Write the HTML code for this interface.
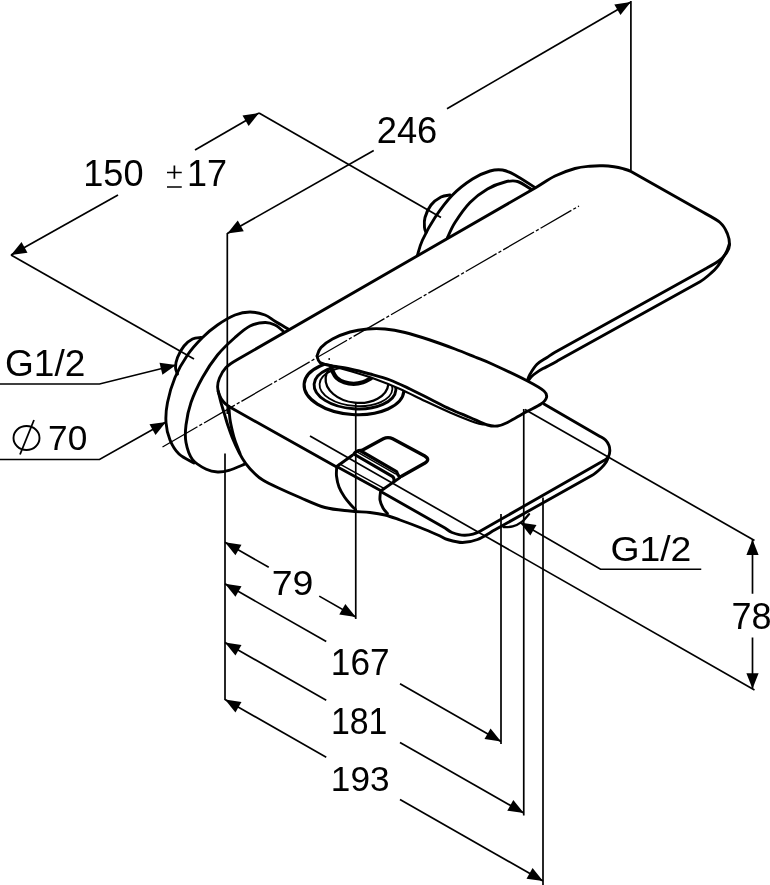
<!DOCTYPE html>
<html><head><meta charset="utf-8"><title>Dimension drawing</title>
<style>
html,body{margin:0;padding:0;background:#fff;}
body{width:770px;height:885px;overflow:hidden;font-family:"Liberation Sans",sans-serif;}
svg{display:block;}
text{font-family:"Liberation Sans",sans-serif;fill:#000;}
</style></head><body>
<svg width="770" height="885" viewBox="0 0 770 885">
<rect width="770" height="885" fill="#fff"/>
<g fill="none" stroke="#000" stroke-width="2.9" stroke-linecap="round" stroke-linejoin="round">
<ellipse cx="354" cy="387.5" rx="50" ry="27" transform="rotate(4 354 387.5)" stroke-width="3.1"/>
<ellipse cx="355" cy="387" rx="41" ry="21.8" transform="rotate(4 355 387)" stroke-width="2.9"/>
<ellipse cx="356" cy="386.5" rx="36.5" ry="19.5" transform="rotate(4 356 386.5)" stroke-width="1.8"/>
<ellipse cx="357" cy="381" rx="31.5" ry="21.8" transform="rotate(6 357 381)" stroke-width="2.3"/>
<path d="M331.80,369.90 C332.58,371.20 334.42,375.63 336.50,377.70 C338.58,379.77 341.43,381.27 344.30,382.30 C347.17,383.33 350.58,383.90 353.70,383.90 C356.82,383.90 360.15,383.22 363.00,382.30 C365.85,381.38 369.50,379.05 370.80,378.40" stroke-width="4.3"/>
<path d="M289.00,329.50 C286.67,328.12 279.00,323.67 275.00,321.25 C271.00,318.83 269.17,316.54 265.00,315.00 C260.83,313.46 255.00,312.00 250.00,312.00 C245.00,312.00 240.42,312.83 235.00,315.00 C229.58,317.17 222.92,321.25 217.50,325.00 C212.08,328.75 207.50,332.50 202.50,337.50 C197.50,342.50 192.08,348.33 187.50,355.00 C182.92,361.67 178.33,369.58 175.00,377.50 C171.67,385.42 169.00,395.00 167.50,402.50 C166.00,410.00 165.58,416.25 166.00,422.50 C166.42,428.75 167.83,434.75 170.00,440.00 C172.17,445.25 175.00,450.17 179.00,454.00 C183.00,457.83 191.50,461.50 194.00,463.00" fill="none"/>
<path d="M283.00,331.00 C281.67,330.00 278.00,326.42 275.00,325.00 C272.00,323.58 269.17,322.33 265.00,322.50 C260.83,322.67 255.00,323.50 250.00,326.00 C245.00,328.50 240.42,332.67 235.00,337.50 C229.58,342.33 222.92,348.33 217.50,355.00 C212.08,361.67 206.92,369.58 202.50,377.50 C198.08,385.42 193.75,394.58 191.00,402.50 C188.25,410.42 186.83,418.33 186.00,425.00 C185.17,431.67 184.92,436.75 186.00,442.50 C187.08,448.25 189.12,455.03 192.50,459.50 C195.88,463.97 202.12,467.22 206.30,469.30 C210.48,471.38 213.83,471.82 217.60,472.00 C221.37,472.18 224.38,471.70 228.90,470.40 C233.42,469.10 242.07,465.23 244.70,464.20" fill="none"/>
<path d="M201.00,337.50 C199.58,337.75 195.33,337.58 192.50,339.00 C189.67,340.42 186.50,342.92 184.00,346.00 C181.50,349.08 178.92,353.92 177.50,357.50 C176.08,361.08 175.50,364.75 175.50,367.50 C175.50,370.25 177.17,372.92 177.50,374.00" fill="none"/>
<path d="M417.50,255.00 C418.33,252.50 419.58,246.25 422.50,240.00 C425.42,233.75 430.00,225.00 435.00,217.50 C440.00,210.00 446.25,201.42 452.50,195.00 C458.75,188.58 466.25,183.00 472.50,179.00 C478.75,175.00 485.00,172.50 490.00,171.00 C495.00,169.50 498.33,169.33 502.50,170.00 C506.67,170.67 509.58,172.08 515.00,175.00 C520.42,177.92 531.67,185.42 535.00,187.50" fill="none"/>
<path d="M447.50,237.50 C448.75,235.00 451.25,228.33 455.00,222.50 C458.75,216.67 464.58,208.08 470.00,202.50 C475.42,196.92 481.67,192.42 487.50,189.00 C493.33,185.58 500.00,183.25 505.00,182.00 C510.00,180.75 513.08,180.25 517.50,181.50 C521.92,182.75 529.17,188.17 531.50,189.50" fill="none"/>
<path d="M450.00,195.00 C448.50,195.33 444.17,195.33 441.00,197.00 C437.83,198.67 433.67,201.58 431.00,205.00 C428.33,208.42 426.08,213.75 425.00,217.50 C423.92,221.25 424.33,225.00 424.50,227.50 C424.67,230.00 425.75,231.67 426.00,232.50" fill="none"/>
<path d="M228.90,406.60 C227.95,405.75 224.80,403.48 223.20,401.50 C221.60,399.52 220.23,397.15 219.30,394.70 C218.37,392.25 217.57,389.58 217.60,386.80 C217.63,384.02 218.10,381.22 219.50,378.00 C220.90,374.78 223.00,370.58 226.00,367.50 C229.00,364.42 233.45,361.83 237.50,359.50 L536.00,187.50 C542.41,183.80 548.50,179.17 555.00,176.00 C561.50,172.83 569.17,170.13 575.00,168.50 C580.83,166.87 585.33,166.65 590.00,166.20 C594.67,165.75 599.00,165.70 603.00,165.80 C607.00,165.90 610.67,166.32 614.00,166.80 C617.33,167.28 620.17,167.92 623.00,168.70 C625.83,169.48 628.54,170.11 631.00,171.50 L700.00,210.60 C706.75,214.42 715.42,218.60 720.00,222.50 C724.58,226.40 725.92,230.25 727.50,234.00 C729.08,237.75 729.58,242.00 729.50,245.00 C729.42,248.00 728.58,249.50 727.00,252.00 C725.42,254.50 723.50,257.25 720.00,260.00 C716.50,262.75 710.77,265.85 706.00,268.50 L555.00,352.30 C552.22,353.84 550.00,355.50 547.00,357.50 C544.00,359.50 539.83,361.50 537.00,364.30 C534.17,367.10 531.62,371.52 530.00,374.30 C528.38,377.08 527.75,379.88 527.30,381.00" fill="none"/>
<path d="M729.30,244.00 C728.88,245.17 727.87,248.67 726.80,251.00 C725.73,253.33 724.37,255.53 722.90,258.00 C721.43,260.47 719.98,263.27 718.00,265.80 C716.02,268.33 714.00,270.55 711.00,273.20 C708.00,275.85 704.05,279.45 700.00,281.70 L558.00,360.60 C555.34,362.08 552.50,363.67 550.00,365.00 C547.50,366.33 545.25,367.33 543.00,368.60 C540.75,369.87 538.37,371.32 536.50,372.60 C534.63,373.88 533.15,375.02 531.80,376.30 C530.45,377.58 528.97,379.63 528.40,380.30" fill="none"/>
<path d="M228.9,406.6 L337.5,467.5" fill="none"/>
<path d="M382.50,492.50 L445.00,528.00 C447.41,529.37 448.67,531.28 452.00,532.50 C455.33,533.72 460.33,535.52 465.00,535.30 C469.67,535.08 475.50,533.77 480.00,531.20 L603.00,461.00 C603.84,460.52 604.57,460.27 605.50,459.50 C606.43,458.73 607.88,457.82 608.60,456.40 C609.32,454.98 609.73,452.82 609.80,451.00 C609.87,449.18 609.72,447.33 609.00,445.50 C608.28,443.67 607.00,441.52 605.50,440.00 C604.00,438.48 601.90,437.50 600.00,436.40 L544.00,404.00" fill="none"/>
<path d="M608.60,456.40 C608.23,457.30 607.67,459.83 606.40,461.80 C605.13,463.77 603.43,465.92 601.00,468.20 C598.57,470.48 595.21,473.58 591.80,475.50 L495.00,529.80 C489.18,533.06 482.92,537.38 477.50,539.50 C472.08,541.62 467.50,542.50 462.50,542.50 C457.50,542.50 451.25,540.58 447.50,539.50 C443.75,538.42 444.58,538.00 440.00,536.00 C435.42,534.00 426.67,530.17 420.00,527.50 C413.33,524.83 405.83,522.08 400.00,520.00 C394.17,517.92 390.00,516.25 385.00,515.00 C380.00,513.75 375.83,513.17 370.00,512.50 C364.17,511.83 357.50,511.83 350.00,511.00 C342.50,510.17 333.33,509.75 325.00,507.50 C316.67,505.25 307.92,500.83 300.00,497.50 C292.08,494.17 283.70,490.42 277.50,487.50 C271.30,484.58 266.57,482.28 262.80,480.00 C259.03,477.72 257.73,476.53 254.90,473.80 C252.07,471.07 248.45,467.18 245.80,463.60 C243.15,460.02 241.25,456.63 239.00,452.30 C236.75,447.97 234.17,442.12 232.30,437.60 C230.43,433.08 229.12,429.15 227.80,425.20 C226.48,421.25 225.53,417.67 224.40,413.90 C223.27,410.13 222.03,406.37 221.00,402.60 C219.97,398.83 218.67,393.18 218.20,391.30" fill="none"/>
<path d="M228.90,406.60 C229.08,408.75 229.43,415.47 230.00,419.50 C230.57,423.53 231.47,427.30 232.30,430.80 C233.13,434.30 233.72,436.72 235.00,440.50 C236.28,444.28 239.17,451.33 240.00,453.50" fill="none"/>
<path d="M317.00,356.00 C317.67,354.58 318.42,350.33 321.00,347.50 C323.58,344.67 327.67,341.58 332.50,339.00 C337.33,336.42 344.17,333.67 350.00,332.00 C355.83,330.33 361.67,329.50 367.50,329.00 C373.33,328.50 378.75,328.42 385.00,329.00 C391.25,329.58 397.50,330.67 405.00,332.50 C412.50,334.33 421.67,337.25 430.00,340.00 C438.33,342.75 447.50,346.17 455.00,349.00 C462.50,351.83 468.83,354.50 475.00,357.00 C481.17,359.50 483.25,360.00 492.00,364.00 C500.75,368.00 518.83,376.50 527.50,381.00 C536.17,385.50 540.83,388.25 544.00,391.00 C547.17,393.75 547.00,395.33 546.50,397.50 C546.00,399.67 544.58,401.50 541.00,404.00 C537.42,406.50 530.58,409.42 525.00,412.50 C519.42,415.58 512.08,420.25 507.50,422.50 C502.92,424.75 500.83,425.58 497.50,426.00 C494.17,426.42 489.75,425.25 487.50,425.00 C485.25,424.75 486.08,424.92 484.00,424.50 C481.92,424.08 480.67,424.50 475.00,422.50 C469.33,420.50 458.33,416.08 450.00,412.50 C441.67,408.92 433.33,404.92 425.00,401.00 C416.67,397.08 408.33,392.67 400.00,389.00 C391.67,385.33 383.33,382.00 375.00,379.00 C366.67,376.00 358.33,373.50 350.00,371.00 C341.67,368.50 330.00,365.42 325.00,364.00 C320.00,362.58 321.33,363.83 320.00,362.50 C318.67,361.17 317.50,357.08 317.00,356.00" fill="#fff" stroke="none"/>
<path d="M317.00,356.00 C317.67,354.58 318.42,350.33 321.00,347.50 C323.58,344.67 327.67,341.58 332.50,339.00 C337.33,336.42 344.17,333.67 350.00,332.00 C355.83,330.33 361.67,329.50 367.50,329.00 C373.33,328.50 378.75,328.42 385.00,329.00 C391.25,329.58 397.50,330.67 405.00,332.50 C412.50,334.33 421.67,337.25 430.00,340.00 C438.33,342.75 447.50,346.17 455.00,349.00 C462.50,351.83 468.83,354.50 475.00,357.00 C481.17,359.50 483.25,360.00 492.00,364.00 C500.75,368.00 518.83,376.50 527.50,381.00 C536.17,385.50 540.83,388.25 544.00,391.00 C547.17,393.75 547.00,395.33 546.50,397.50 C546.00,399.67 544.58,401.50 541.00,404.00 C537.42,406.50 530.58,409.42 525.00,412.50 C519.42,415.58 512.08,420.25 507.50,422.50 C502.92,424.75 500.83,425.58 497.50,426.00 C494.17,426.42 492.08,426.42 487.50,425.00 C482.92,423.58 476.25,420.17 470.00,417.50 C463.75,414.83 456.67,412.08 450.00,409.00 C443.33,405.92 436.67,402.33 430.00,399.00 C423.33,395.67 416.67,392.17 410.00,389.00 C403.33,385.83 396.67,382.50 390.00,380.00 C383.33,377.50 376.67,375.83 370.00,374.00 C363.33,372.17 356.67,370.42 350.00,369.00 C343.33,367.58 335.00,366.58 330.00,365.50 C325.00,364.42 322.17,364.08 320.00,362.50 C317.83,360.92 317.50,357.08 317.00,356.00"/>
<path d="M325.00,364.00 C329.17,365.17 341.67,368.50 350.00,371.00 C358.33,373.50 366.67,376.00 375.00,379.00 C383.33,382.00 391.67,385.33 400.00,389.00 C408.33,392.67 416.67,397.08 425.00,401.00 C433.33,404.92 441.67,408.92 450.00,412.50 C458.33,416.08 469.33,420.50 475.00,422.50 C480.67,424.50 482.50,424.17 484.00,424.50" stroke-width="2.2"/>
<circle cx="329.2" cy="359" r="0.9" fill="#000" stroke="none"/>
<path d="M336.70,467.40 C336.67,468.83 336.12,472.73 336.50,476.00 C336.88,479.27 337.67,483.50 339.00,487.00 C340.33,490.50 342.50,494.00 344.50,497.00 C346.50,500.00 349.17,502.92 351.00,505.00 C352.83,507.08 354.75,508.75 355.50,509.50"/>
<path d="M380.50,492.00 C380.42,493.33 379.58,497.33 380.00,500.00 C380.42,502.67 381.77,505.75 383.00,508.00 C384.23,510.25 386.67,512.58 387.40,513.50"/>
<path d="M352.4,455.3 L336.7,466.5 L381,490.7 L400,477.6"/>
<path d="M339.5,463.8 L383.5,488.2" stroke-width="1.5"/>
<path d="M361,450.3 Q356,450.5 353.8,454 L392.3,476.3 Q394.5,478 394,481.5" stroke-width="3.1"/>
<path d="M357,451.8 L395.5,473.8" stroke-width="1.4"/>
<path d="M360.8,451 L383.3,438.8 Q388,436.3 392.7,438.8 L424.8,456 Q430.5,459.5 425,463 L401.5,476.3 Q398.5,477.8 396.5,471.6 Z" fill="#fff" stroke-width="3.3"/>
<path d="M503.60,527.20 C505.12,527.07 509.67,527.30 512.70,526.40 C515.73,525.50 519.08,523.83 521.80,521.80 C524.52,519.77 527.80,515.47 529.00,514.20" stroke-width="2.3"/>
</g>
<g fill="none" stroke="#000" stroke-width="1.7">
<path d="M11.00,255.00 L118.00,195.00"/>
<path d="M195.00,150.00 L259.00,113.00"/>
<path d="M11.00,255.00 L194.00,359.00"/>
<path d="M259.00,113.00 L441.00,217.50"/>
<path d="M227.30,233.50 L373.75,150.50"/>
<path d="M447.00,108.70 L630.80,2.00"/>
<path d="M630.90,1.00 L630.90,170.50"/>
<path d="M227.30,233.00 L227.30,414.00"/>
<path d="M225.00,453.50 L225.00,700.00"/>
<path d="M225.00,542.30 L268.75,567.28"/>
<path d="M319.25,596.12 L355.75,616.96"/>
<path d="M355.75,402.50 L355.75,618.96"/>
<path d="M225.00,583.80 L326.25,641.61"/>
<path d="M400.00,683.72 L501.00,741.40"/>
<path d="M501.00,514.00 L501.00,743.90"/>
<path d="M225.00,642.50 L326.25,700.31"/>
<path d="M400.00,742.42 L523.75,813.09"/>
<path d="M523.75,409.00 L523.75,815.59"/>
<path d="M225.00,699.50 L326.25,757.31"/>
<path d="M400.00,799.42 L543.00,881.08"/>
<path d="M543.00,497.50 L543.00,885.00"/>
<path d="M752.50,539.50 L752.50,593.75"/>
<path d="M752.50,637.50 L752.50,688.75"/>
<path d="M525.00,409.50 L754.50,540.50"/>
<path d="M310.00,436.00 L754.50,690.00"/>
<path d="M0.00,384.00 L99.50,384.00 L176.00,365.00"/>
<path d="M0.00,459.50 L99.50,459.50 L166.00,422.00"/>
<path d="M701.25,569.25 L600.50,569.25 L520.00,522.50"/>
<path d="M167,172.5 H181.75 M174.4,165.5 V178.75 M167,187 H181.75"/>
<ellipse cx="26.5" cy="438" rx="13" ry="12" stroke-width="1.9"/><path d="M20,454.5 L34,420" stroke-width="1.8"/>
</g>
<g fill="none" stroke="#000" stroke-width="1.3"><path d="M162.5,447 L579,206" stroke-dasharray="40.4 2.2 3.2 2.2 35.6 2.2 3.2 2.2 35.6 2.2 3.2 2.2 35.6 2.2 3.2 2.2 35.6 2.2 3.2 2.2 35.6 2.2 3.2 2.2 35.6 2.2 3.2 2.2 35.6 2.2 3.2 2.2 35.6 2.2 3.2 2.2 35.6 2.2 3.2 2.2 35.6 2.2 3.2 2.2 35.6 2.2 3.2 2.2"/></g>
<g fill="#000" stroke="none">
<polygon points="11.00,255.00 21.54,242.10 27.50,252.74"/>
<polygon points="259.00,113.00 248.63,126.04 242.53,115.48"/>
<polygon points="227.30,233.50 237.78,220.55 243.79,231.16"/>
<polygon points="630.80,2.00 620.46,15.06 614.33,4.51"/>
<polygon points="225.00,542.30 241.48,544.69 235.44,555.28"/>
<polygon points="355.75,616.96 339.27,614.57 345.31,603.98"/>
<polygon points="225.00,583.80 241.48,586.19 235.44,596.78"/>
<polygon points="501.00,741.40 484.52,739.01 490.56,728.41"/>
<polygon points="225.00,642.50 241.48,644.89 235.44,655.48"/>
<polygon points="523.75,813.09 507.27,810.70 513.31,800.10"/>
<polygon points="225.00,699.50 241.48,701.89 235.44,712.48"/>
<polygon points="543.00,881.08 526.52,878.69 532.56,868.09"/>
<polygon points="752.50,539.50 758.60,555.00 746.40,555.00"/>
<polygon points="752.50,688.75 746.40,673.25 758.60,673.25"/>
<polygon points="176.00,365.00 162.43,374.66 159.49,362.82"/>
<polygon points="166.00,422.00 155.50,434.93 149.50,424.30"/>
<polygon points="520.00,522.50 536.47,525.01 530.34,535.56"/>
</g>
<g opacity="0.999">
<text transform="translate(83.24,185.50) scale(1.0045,1)" font-size="36">150</text>
<text transform="translate(187.00,185.50) scale(1.0000,1)" font-size="36">17</text>
<text transform="translate(376.73,142.70) scale(1.0088,1)" font-size="36">246</text>
<text transform="translate(4.94,375.50) scale(1.0304,1)" font-size="36">G1/2</text>
<text transform="translate(48.04,450.00) scale(0.9797,1)" font-size="36">70</text>
<text transform="translate(610.43,560.50) scale(1.0372,1)" font-size="36">G1/2</text>
<text transform="translate(271.67,594.50) scale(1.0417,1)" font-size="36">79</text>
<text transform="translate(330.82,675.00) scale(0.9773,1)" font-size="36">167</text>
<text transform="translate(330.93,733.70) scale(0.9409,1)" font-size="36">181</text>
<text transform="translate(330.82,791.00) scale(0.9777,1)" font-size="36">193</text>
<text transform="translate(731.50,628.75) scale(1.0000,1)" font-size="36">78</text>
</g>
</svg>
</body></html>
